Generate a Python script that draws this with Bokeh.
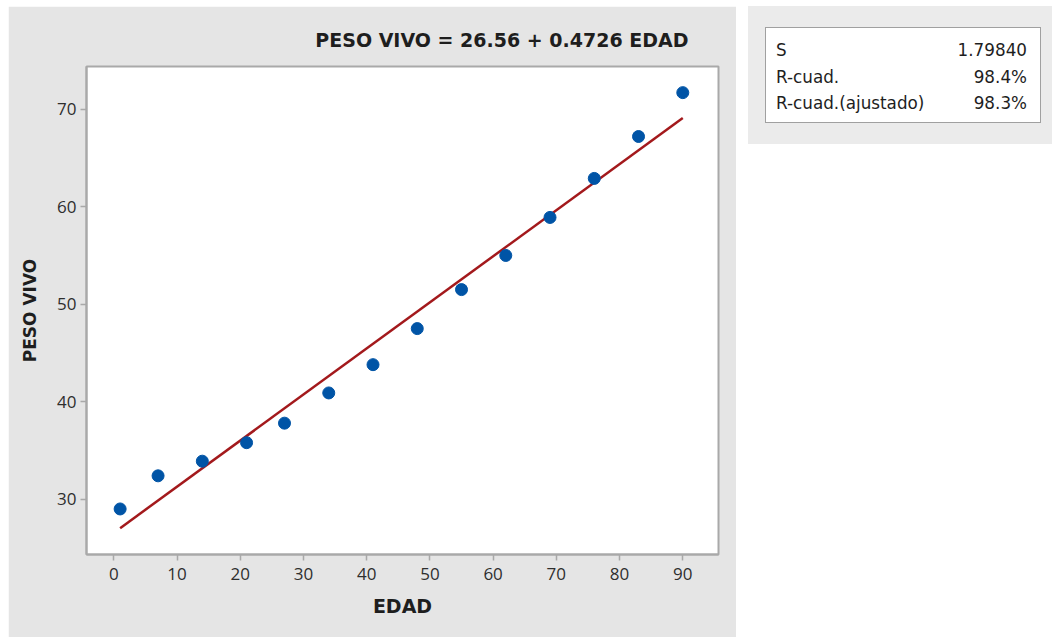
from bokeh.plotting import figure
from bokeh.layouts import row
from bokeh.models import Range1d, FixedTicker, Div
from bokeh.embed import file_html
from bokeh.resources import INLINE

# ---- data ----
edad = [1, 7, 14, 21, 27, 34, 41, 48, 55, 62, 69, 76, 83, 90]
peso_vivo = [29.0, 32.4, 33.9, 35.8, 37.8, 40.9, 43.8, 47.5, 51.5, 55.0, 58.9, 62.9, 67.2, 71.7]
intercept = 26.56
slope = 0.4726
x_ticks = [0, 10, 20, 30, 40, 50, 60, 70, 80, 90]
y_ticks = [30, 40, 50, 60, 70]
stat_names = ["S", "R-cuad.", "R-cuad.(ajustado)"]
stat_values = ["1.79840", "98.4%", "98.3%"]

TXT = "#1e1e1e"
GREY_BG = "#e5e5e5"
FRAME = "#a9a9a9"
LABEL_FONT = "DejaVu Sans"

p = figure(width=728, height=631, output_backend="svg", toolbar_location=None,
           x_range=Range1d(-4.32, 95.65), y_range=Range1d(24.33, 74.38),
           min_border_left=78, min_border_right=18, min_border_top=60, min_border_bottom=83,
           title=f"PESO VIVO = {intercept:.2f} + {slope:.4f} EDAD")
p.border_fill_color = GREY_BG
p.background_fill_color = "white"
p.outline_line_color = FRAME
p.outline_line_width = 2
p.grid.visible = False

p.title.align = "right"
p.title.offset = 30
p.title.standoff = 31
p.title.text_font = LABEL_FONT
p.title.text_font_size = "19px"
p.title.text_font_style = "bold"
p.title.text_color = TXT

for ax, ticks, lab in ((p.xaxis[0], x_ticks, "EDAD"), (p.yaxis[0], y_ticks, "PESO VIVO")):
    ax.ticker = FixedTicker(ticks=ticks)
    ax.axis_label = lab
    ax.axis_label_text_font = LABEL_FONT
    ax.axis_label_text_font_style = "bold"
    ax.axis_label_text_color = TXT
    ax.major_label_text_font = "Open Sans"
    ax.major_label_text_font_size = "17px"
    ax.major_label_text_color = "#2e2e2e"
    ax.axis_line_color = FRAME
    ax.axis_line_width = 2
    ax.major_tick_line_color = FRAME
    ax.major_tick_line_width = 1.5
    ax.major_tick_out = 6
    ax.major_tick_in = 0
    ax.minor_tick_line_color = None
p.xaxis[0].axis_label_text_font_size = "19px"
p.yaxis[0].axis_label_text_font_size = "17px"
p.yaxis[0].major_label_standoff = 4
p.xaxis[0].major_label_standoff = 7
p.yaxis[0].axis_label_standoff = 14
p.xaxis[0].axis_label_standoff = 12

# fitted line
fx = [min(edad), max(edad)]
fy = [intercept + slope * v for v in fx]
p.line(fx, fy, line_color="#a3191c", line_width=2.5)

p.scatter(edad, peso_vivo, size=12, fill_color="#0054a6", line_color="#0054a6")

# ---- stats panel ----
PW, PH = 304, 138
rows_html = []
for i, (n, v) in enumerate(zip(stat_names, stat_values)):
    top = 44.0 + 26.5 * i - 11
    rows_html.append(
        f'<div style="position:absolute;left:28px;top:{top:.1f}px;line-height:22px;white-space:nowrap;">{n}</div>'
        f'<div style="position:absolute;right:{PW - 279}px;top:{top:.1f}px;line-height:22px;white-space:nowrap;">{v}</div>'
    )
html = (
    f'<div style="position:relative;width:{PW}px;height:{PH}px;background:#ebebeb;'
    f"font-family:'DejaVu Sans';font-size:16.8px;color:{TXT};\">"
    '<div style="position:absolute;left:17px;top:21px;width:276px;height:96px;background:#ffffff;'
    'border:1.5px solid #a0a0a0;box-sizing:border-box;"></div>'
    + "".join(rows_html) + "</div>"
)
stats = Div(text=html, width=PW, height=PH, margin=0)

layout = row(p, stats, spacing=12, margin=(6, 0, 0, 8))
open("out.html", "w").write(file_html(layout, INLINE))
